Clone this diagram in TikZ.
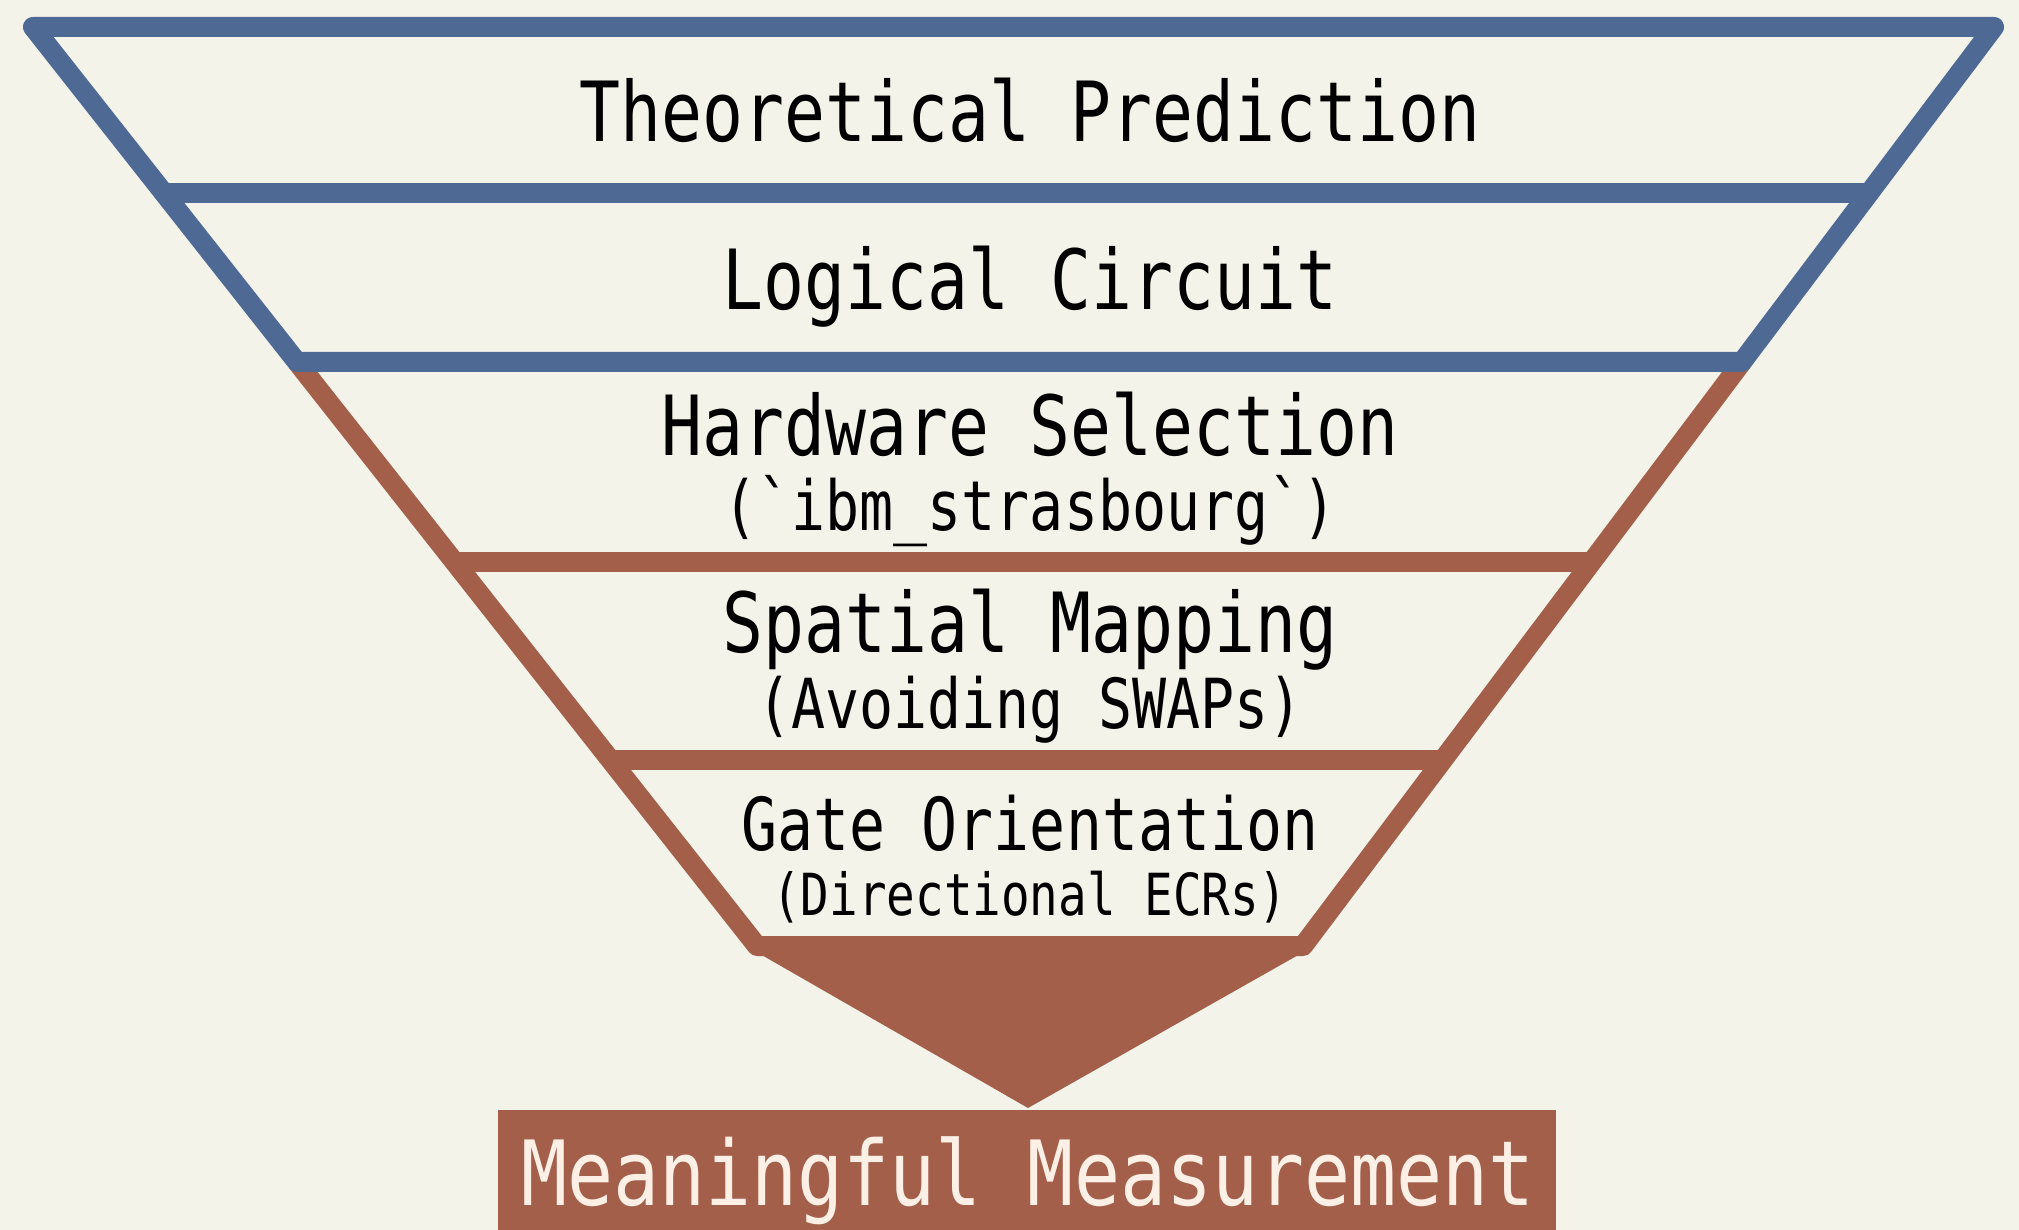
\documentclass[tikz,border=0pt]{standalone}
\usepackage{fontspec}
\usepackage{xcolor}
\newfontfamily\stagefont[FakeStretch=0.82,Ligatures=TeXOff]{DejaVu Sans Mono}
\newfontfamily\outfont[FakeStretch=0.85,Ligatures=TeXOff]{DejaVu Sans Mono}
\definecolor{paper}{HTML}{F3F3EA}
\definecolor{funnelblue}{HTML}{4D6994}
\definecolor{funnelbrown}{HTML}{A35F49}
\definecolor{outtext}{HTML}{FBEFE6}

\begin{document}
\begin{tikzpicture}[
  x=1pt, y=-1pt,
  blueline/.style={draw=funnelblue, line width=20pt, line join=round},
  brownline/.style={draw=funnelbrown, line width=20pt, line join=round},
  stage/.style={anchor=base, inner sep=0pt, text=black, font=\stagefont\fontsize{83}{90}\selectfont},
  note/.style={anchor=base, inner sep=0pt, text=black, font=\stagefont\fontsize{69}{75}\selectfont},
  output/.style={anchor=base, inner sep=0pt, text=outtext, font=\outfont\fontsize{90}{96}\selectfont}
]

% Canvas
\fill[paper] (0,0) rectangle (2019,1230);
\useasboundingbox (0,0) rectangle (2019,1230);

% Funnel frame: lower part
\draw[brownline] (297,362) -- (757,946) -- (1303,946) -- (1742,362);
\draw[brownline] (455,562) -- (1592,562);
\draw[brownline] (611,760) -- (1443,760);
\fill[funnelbrown] (757,946) -- (1303,946) -- (1300,954) -- (1028,1108) -- (760,954) -- cycle;

% Funnel frame: upper part
\draw[blueline] (33,27) -- (1994,27) -- (1742,362) -- (297,362) -- cycle;
\draw[blueline] (164,193) -- (1869,193);

% Stages
\node[stage] (theory) at (1030,142) {Theoretical Prediction};
\node[stage] (logic) at (1030,310) {Logical Circuit};
\node[stage] (hw) at (1030,456) {Hardware Selection};
\node[note] (hwnote) at (1030,530) {(\symbol{96}ibm\_strasbourg\symbol{96})};
\node[stage] (map) at (1030,652) {Spatial Mapping};
\node[note] (mapnote) at (1030,728) {(Avoiding SWAPs)};
\node[stage, font=\stagefont\fontsize{73}{80}\selectfont] (gate) at (1030,850) {Gate Orientation};
\node[note, font=\stagefont\fontsize{58}{64}\selectfont] (gatenote) at (1030,915) {(Directional ECRs)};

% Output
\fill[funnelbrown] (498,1110) rectangle (1556,1230);
\node[output] (meas) at (1028,1205) {Meaningful Measurement};

\end{tikzpicture}
\end{document}
